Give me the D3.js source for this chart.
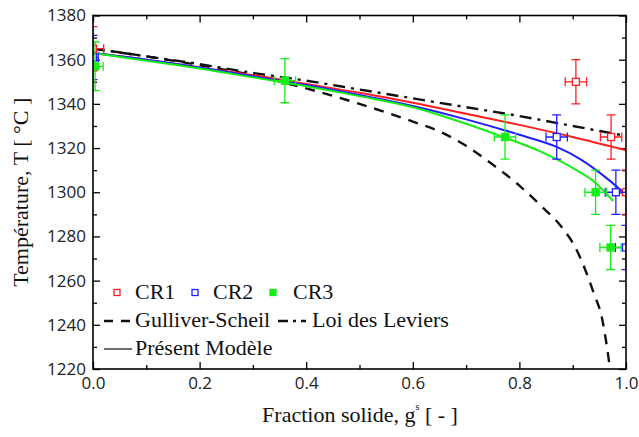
<!DOCTYPE html>
<html>
<head>
<meta charset="utf-8">
<script src="https://cdn.jsdelivr.net/npm/d3@7"></script>
<style>
  body { margin: 0; background: #fff; }
  svg { display: block; }
  .serif { font-family: "Liberation Serif", "DejaVu Serif", "Times New Roman", serif; }
</style>
</head>
<body>
<div id="chart"></div>
<script>
// measured points: g = fraction solide, t = temperature, dg / dt = error half widths
const cr1Points = [
  { g: 0.0, t: 1365, dg: 0.02, dt: 10 },
  { g: 0.906, t: 1350, dg: 0.02, dt: 10 },
  { g: 0.972, t: 1325, dg: 0.02, dt: 10 },
  { g: 1.0, t: 1300, dg: 0.02, dt: 10 }
]
const cr2Points = [
  { g: 0.0, t: 1361, dg: 0.01, dt: 10 },
  { g: 0.87, t: 1325, dg: 0.02, dt: 10 },
  { g: 0.981, t: 1300, dg: 0.02, dt: 10 },
  { g: 1.0, t: 1275, dg: 0.02, dt: 10 }
]
const cr3Points = [
  { g: 0.004, t: 1357, dg: 0.015, dt: 11 },
  { g: 0.36, t: 1350.5, dg: 0.02, dt: 10 },
  { g: 0.773, t: 1325, dg: 0.02, dt: 10 },
  { g: 0.943, t: 1300, dg: 0.02, dt: 10 },
  { g: 0.971, t: 1275, dg: 0.02, dt: 10 }
]

// curves
const gulliverScheil = [
  [0, 1365], [0.1, 1361.5], [0.2, 1357.5], [0.3, 1353], [0.4, 1347], [0.5, 1340],
  [0.6, 1332], [0.65, 1327.5], [0.7, 1321], [0.75, 1312.5], [0.8, 1303], [0.84, 1294],
  [0.88, 1284], [0.905, 1275], [0.925, 1264], [0.94, 1254], [0.955, 1243], [0.963, 1232], [0.97, 1220]
]
const loiLeviers = [
  [0, 1365], [0.1, 1361.5], [0.2, 1358], [0.3, 1354], [0.4, 1350.5], [0.5, 1346.5],
  [0.6, 1342.5], [0.7, 1338.5], [0.8, 1334.5], [0.9, 1330], [1.0, 1325.5]
]
const modeleCR1 = [
  [0, 1363], [0.1, 1360], [0.2, 1356.5], [0.3, 1353], [0.4, 1349], [0.5, 1345],
  [0.6, 1340.5], [0.7, 1335.5], [0.8, 1330.5], [0.9, 1325], [1.0, 1319]
]
const modeleCR2 = [
  [0, 1363], [0.1, 1360], [0.2, 1356.5], [0.3, 1352.5], [0.4, 1348.5], [0.5, 1344],
  [0.6, 1339], [0.7, 1333], [0.8, 1326], [0.87, 1320.5], [0.914, 1315], [0.963, 1306.5], [0.997, 1299.5]
]
const modeleCR3 = [
  [0, 1363], [0.1, 1359.5], [0.2, 1356], [0.3, 1352], [0.4, 1348], [0.5, 1343.5],
  [0.6, 1338.5], [0.7, 1331], [0.764, 1325.5], [0.839, 1318.5], [0.914, 1309], [0.939, 1305], [0.976, 1296]
]

const xMajor = [0, 0.2, 0.4, 0.6, 0.8, 1.0]
const xMinor = [0.1, 0.3, 0.5, 0.7, 0.9]
const yMajor = [1220, 1240, 1260, 1280, 1300, 1320, 1340, 1360, 1380]
const yMinor = [1230, 1250, 1270, 1290, 1310, 1330, 1350, 1370]

const colors = { cr1: '#ff1f1f', cr2: '#1f1fff', cr3: '#14ee14' }

const width = 639
const height = 437
const plot = { left: 93, right: 626, top: 15.5, bottom: 369 }

const x = d3.scaleLinear().domain([0, 1]).range([plot.left, plot.right])
const y = d3.scaleLinear().domain([1220, 1380]).range([plot.bottom, plot.top])

const svg = d3.select('#chart')
  .append('svg')
  .attr('width', width)
  .attr('height', height)

svg.append('rect').attr('width', width).attr('height', height).attr('fill', '#fff')

svg.append('clipPath')
  .attr('id', 'plot-clip')
  .append('rect')
  .attr('x', plot.left)
  .attr('y', plot.top)
  .attr('width', plot.right - plot.left)
  .attr('height', plot.bottom - plot.top)

// axes, ticks pointing inward
function styleAxis (g) {
  g.select('.domain').remove()
  g.attr('font-family', null).attr('font-size', null)
  g.selectAll('line').attr('stroke', '#000').attr('stroke-width', 1.3)
  g.selectAll('text')
    .style('font-family', '"Open Sans", "Liberation Sans", sans-serif')
    .style('font-size', '17px')
    .attr('fill', '#222')
}

svg.append('g')
  .attr('transform', `translate(0,${plot.bottom})`)
  .call(d3.axisBottom(x).tickValues(xMajor).tickSize(-7).tickPadding(8).tickFormat(d3.format('.1f')))
  .call(styleAxis)
svg.append('g')
  .attr('transform', `translate(0,${plot.bottom})`)
  .call(d3.axisBottom(x).tickValues(xMinor).tickSize(-4).tickFormat(''))
  .call(styleAxis)
svg.append('g')
  .attr('transform', `translate(0,${plot.top})`)
  .call(d3.axisTop(x).tickValues(xMajor).tickSize(-7).tickFormat(''))
  .call(styleAxis)
svg.append('g')
  .attr('transform', `translate(0,${plot.top})`)
  .call(d3.axisTop(x).tickValues(xMinor).tickSize(-4).tickFormat(''))
  .call(styleAxis)

svg.append('g')
  .attr('transform', `translate(${plot.left},0)`)
  .call(d3.axisLeft(y).tickValues(yMajor).tickSize(-7).tickPadding(7).tickFormat(d3.format('d')))
  .call(styleAxis)
svg.append('g')
  .attr('transform', `translate(${plot.left},0)`)
  .call(d3.axisLeft(y).tickValues(yMinor).tickSize(-4).tickFormat(''))
  .call(styleAxis)
svg.append('g')
  .attr('transform', `translate(${plot.right},0)`)
  .call(d3.axisRight(y).tickValues(yMajor).tickSize(-7).tickFormat(''))
  .call(styleAxis)
svg.append('g')
  .attr('transform', `translate(${plot.right},0)`)
  .call(d3.axisRight(y).tickValues(yMinor).tickSize(-4).tickFormat(''))
  .call(styleAxis)

// curves
const data = svg.append('g').attr('clip-path', 'url(#plot-clip)')
const line = d3.line().x(d => x(d[0])).y(d => y(d[1])).curve(d3.curveMonotoneX)

const curves = [
  { values: gulliverScheil, color: '#111', width: 2.4, dash: '10,8' },
  { values: loiLeviers, color: '#111', width: 2.4, dash: '12,6,3,6' },
  { values: modeleCR1, color: colors.cr1, width: 2, dash: null },
  { values: modeleCR2, color: colors.cr2, width: 2, dash: null },
  { values: modeleCR3, color: colors.cr3, width: 2, dash: null }
]

data.selectAll('path.curve')
  .data(curves)
  .join('path')
  .attr('class', 'curve')
  .attr('d', d => line(d.values))
  .attr('fill', 'none')
  .attr('stroke', d => d.color)
  .attr('stroke-width', d => d.width)
  .attr('stroke-dasharray', d => d.dash)

// error bars + markers
const cap = 4.5
const series = [
  { points: cr1Points, color: colors.cr1, filled: false },
  { points: cr2Points, color: colors.cr2, filled: false },
  { points: cr3Points, color: colors.cr3, filled: true }
]

series.forEach(s => {
  const g = data.append('g').attr('stroke', s.color).attr('stroke-width', 1.3)
  s.points.forEach(p => {
    const cx = x(p.g)
    const cy = y(p.t)
    const x0 = x(p.g - p.dg)
    const x1 = x(p.g + p.dg)
    const y0 = y(p.t - p.dt)
    const y1 = y(p.t + p.dt)
    g.append('line').attr('x1', cx).attr('x2', cx).attr('y1', y0).attr('y2', y1)
    g.append('line').attr('x1', cx - cap).attr('x2', cx + cap).attr('y1', y0).attr('y2', y0)
    g.append('line').attr('x1', cx - cap).attr('x2', cx + cap).attr('y1', y1).attr('y2', y1)
    g.append('line').attr('x1', x0).attr('x2', x1).attr('y1', cy).attr('y2', cy)
    g.append('line').attr('x1', x0).attr('x2', x0).attr('y1', cy - cap).attr('y2', cy + cap)
    g.append('line').attr('x1', x1).attr('x2', x1).attr('y1', cy - cap).attr('y2', cy + cap)
    g.append('rect')
      .attr('x', cx - 3.5).attr('y', cy - 3.5)
      .attr('width', 7).attr('height', 7)
      .attr('fill', s.filled ? s.color : '#fff')
  })
})

// frame
svg.append('rect')
  .attr('x', plot.left).attr('y', plot.top)
  .attr('width', plot.right - plot.left).attr('height', plot.bottom - plot.top)
  .attr('fill', 'none').attr('stroke', '#000').attr('stroke-width', 1.6)

// legend
const legend = svg.append('g').attr('class', 'serif').style('font-size', '22px').attr('fill', '#111')

const markerItems = [
  { label: 'CR1', color: colors.cr1, filled: false, mx: 117, tx: 135 },
  { label: 'CR2', color: colors.cr2, filled: false, mx: 195, tx: 213 },
  { label: 'CR3', color: colors.cr3, filled: true, mx: 273, tx: 293 }
]
markerItems.forEach(m => {
  legend.append('rect')
    .attr('x', m.mx - 3).attr('y', 292.5 - 3)
    .attr('width', 6).attr('height', 6)
    .attr('fill', m.filled ? m.color : '#fff')
    .attr('stroke', m.color).attr('stroke-width', 1.3)
  legend.append('text').attr('x', m.tx).attr('y', 299).text(m.label)
})

const lineItems = [
  { label: 'Gulliver-Scheil', dash: '9,8', lx: 104, tx: 135, ty: 327, width: 2.4 },
  { label: 'Loi des Leviers', dash: '10,5,3,5', lx: 278, tx: 312, ty: 327, width: 2.4 },
  { label: 'Présent Modèle', dash: null, lx: 104, tx: 135, ty: 355, width: 1.2 }
]
lineItems.forEach(l => {
  legend.append('line')
    .attr('x1', l.lx).attr('x2', l.lx + 28)
    .attr('y1', l.ty - 6).attr('y2', l.ty - 6)
    .attr('stroke', '#111').attr('stroke-width', l.width)
    .attr('stroke-dasharray', l.dash)
  legend.append('text').attr('x', l.tx).attr('y', l.ty).text(l.label)
})

// axis titles
const xTitle = svg.append('text')
  .attr('class', 'serif')
  .attr('x', 360).attr('y', 422)
  .attr('text-anchor', 'middle')
  .style('font-size', '22px').attr('fill', '#111')
xTitle.append('tspan').text('Fraction solide, g')
xTitle.append('tspan').style('font-size', '10px').attr('dy', -12).text('s')
xTitle.append('tspan').attr('dy', 12).text(' [ - ]')

svg.append('text')
  .attr('class', 'serif')
  .attr('transform', `translate(28,${(plot.top + plot.bottom) / 2}) rotate(-90)`)
  .attr('text-anchor', 'middle')
  .style('font-size', '22px').attr('fill', '#111')
  .text('Température, T [ °C ]')
</script>
</body>
</html>
